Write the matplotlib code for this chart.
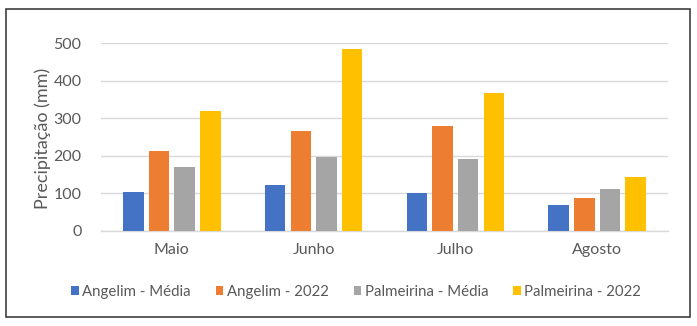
import matplotlib
matplotlib.use("Agg")
import matplotlib.pyplot as plt
from matplotlib.patches import Rectangle, Patch
import numpy as np

plt.rcParams['font.family'] = ['Lato', 'DejaVu Sans']

months = ["Maio", "Junho", "Julho", "Agosto"]
series_names = ["Angelim - Média", "Angelim - 2022", "Palmeirina - Média", "Palmeirina - 2022"]
angelim_media = [102, 121, 101, 67]
angelim_2022 = [212, 265, 279, 86]
palmeirina_media = [170, 197, 190, 112]
palmeirina_2022 = [320, 484, 366, 142]
colors = ["#4472C4", "#ED7D31", "#A5A5A5", "#FFC000"]
yticks = [0, 100, 200, 300, 400, 500]

text_color = "#595959"
grid_color = "#D9D9D9"

fig = plt.figure(figsize=(6.97, 3.26), dpi=100)
ax = fig.add_axes([0.1449, 0.2929, 0.8135, 0.5743])

x = np.arange(len(months))
step = 0.181
width = 0.145
all_series = [angelim_media, angelim_2022, palmeirina_media, palmeirina_2022]
for i, (vals, c) in enumerate(zip(all_series, colors)):
    ax.bar(x + (i - 1.5) * step, vals, width=width, color=c, zorder=3,
           label=series_names[i])

ax.set_xlim(-0.5, len(months) - 0.5)
ax.set_ylim(0, 500)
ax.set_yticks(yticks)
ax.set_xticks(x)
ax.set_xticklabels(months)
ax.yaxis.grid(True, color=grid_color, linewidth=1, zorder=0)
for s in ["top", "right", "left"]:
    ax.spines[s].set_visible(False)
ax.spines["bottom"].set_color(grid_color)
ax.spines["bottom"].set_linewidth(1)
ax.tick_params(axis="both", length=0, colors=text_color)
ax.tick_params(axis="y", labelsize=11.5, pad=14)
ax.tick_params(axis="x", labelsize=11.5, pad=9)

fig.text(43 / 697, 1 - 138 / 326, "Precipitação (mm)", rotation=90,
         ha="center", va="center", fontsize=13, color=text_color)

handles = [Patch(facecolor=c, edgecolor="none") for c in colors]
fig.legend(handles, series_names, loc="center", bbox_to_anchor=(0.511, 0.104),
           ncol=4, frameon=False, fontsize=10.8, labelcolor=text_color,
           handlelength=0.5, handleheight=0.5, handletextpad=0.25,
           columnspacing=1.65, borderpad=0)

fig.add_artist(Rectangle((6 / 697, 1 - 317 / 326), 684 / 697, 308 / 326,
                         transform=fig.transFigure, fill=False,
                         edgecolor="#404040", linewidth=1.2))

fig.savefig("out.png", dpi=100)
